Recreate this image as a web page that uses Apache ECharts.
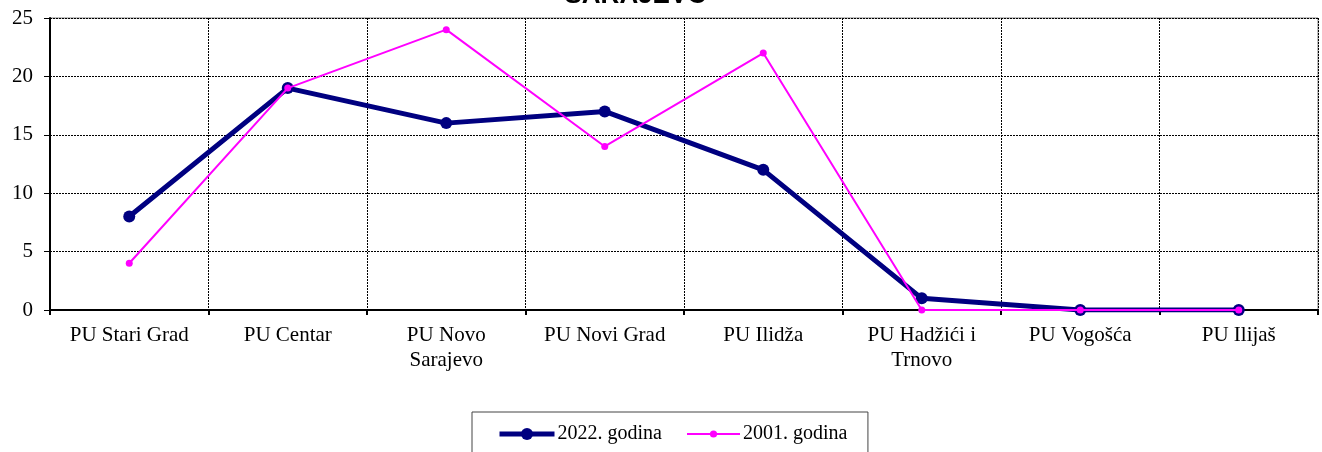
<!DOCTYPE html>
<html>
<head>
<meta charset="utf-8">
<script src="https://cdn.jsdelivr.net/npm/echarts@6/dist/echarts.min.js"></script>
<style>
  html, body { margin: 0; padding: 0; background: #fff; }
  #main { width: 1322px; height: 452px; }
</style>
</head>
<body>
<div id="main"></div>
<script>
const categories = ['PU Stari Grad', 'PU Centar', 'PU Novo\nSarajevo', 'PU Novi Grad', 'PU Ilidža', 'PU Hadžići i\nTrnovo', 'PU Vogošća', 'PU Ilijaš'];
const values2022 = [8, 19, 16, 17, 12, 1, 0, 0];
const values2001 = [4, 19, 24, 14, 22, 0, 0, 0];

const serif = '"Liberation Serif", "DejaVu Serif", serif';
const chart = echarts.init(document.getElementById('main'));

chart.setOption({
  animation: false,
  title: {
    text: 'SARAJEVO',
    left: 631,
    textAlign: 'center',
    top: -22,
    textStyle: { fontFamily: '"Liberation Sans", Arial, sans-serif', fontWeight: 'bold', fontSize: 26, color: '#000' }
  },
  grid: {
    left: 50, right: 4, top: 18, bottom: 142,
    show: true, borderColor: '#808080', borderWidth: 1
  },
  legend: [
    {
      // first item carries the framed box of the whole legend
      left: 472, top: 412,
      padding: [12, 206, 14, 25],
      itemWidth: 55, itemHeight: 15,
      borderColor: '#444', borderWidth: 1,
      lineStyle: { width: 5 },
      textStyle: { fontFamily: serif, fontSize: 20, color: '#000', padding: [0, 0, 0, -2] },
      data: ['2022. godina']
    },
    {
      left: 686, top: 424,
      padding: 0,
      itemWidth: 53, itemHeight: 9,
      lineStyle: { width: 2 },
      textStyle: { fontFamily: serif, fontSize: 20, color: '#000', padding: [0, 0, 0, -2] },
      data: ['2001. godina']
    }
  ],
  xAxis: {
    type: 'category',
    data: categories,
    boundaryGap: true,
    axisLine: { lineStyle: { color: '#000', width: 2 } },
    axisTick: { show: true, length: 5, lineStyle: { color: '#000', width: 2 } },
    axisLabel: { fontFamily: serif, fontSize: 21, color: '#000', margin: 13, lineHeight: 25, interval: 0 },
    splitLine: { show: true, lineStyle: { color: '#000', type: [2, 1], width: 1 } }
  },
  yAxis: {
    type: 'value',
    min: 0, max: 25, interval: 5,
    axisLine: { show: true, lineStyle: { color: '#000', width: 2 } },
    axisTick: { show: true, length: 6, lineStyle: { color: '#000', width: 1 } },
    axisLabel: { fontFamily: serif, fontSize: 21, color: '#000', margin: 17 },
    splitLine: { show: true, lineStyle: { color: '#000', type: [2, 1], width: 1 } }
  },
  series: [
    {
      name: '2022. godina',
      type: 'line',
      data: values2022,
      symbol: 'circle',
      symbolSize: 12,
      lineStyle: { color: '#000080', width: 5 },
      itemStyle: { color: '#000080' },
      z: 2
    },
    {
      name: '2001. godina',
      type: 'line',
      data: values2001,
      symbol: 'circle',
      symbolSize: 7,
      lineStyle: { color: '#ff00ff', width: 2 },
      itemStyle: { color: '#ff00ff' },
      z: 3
    }
  ]
});
</script>
</body>
</html>
